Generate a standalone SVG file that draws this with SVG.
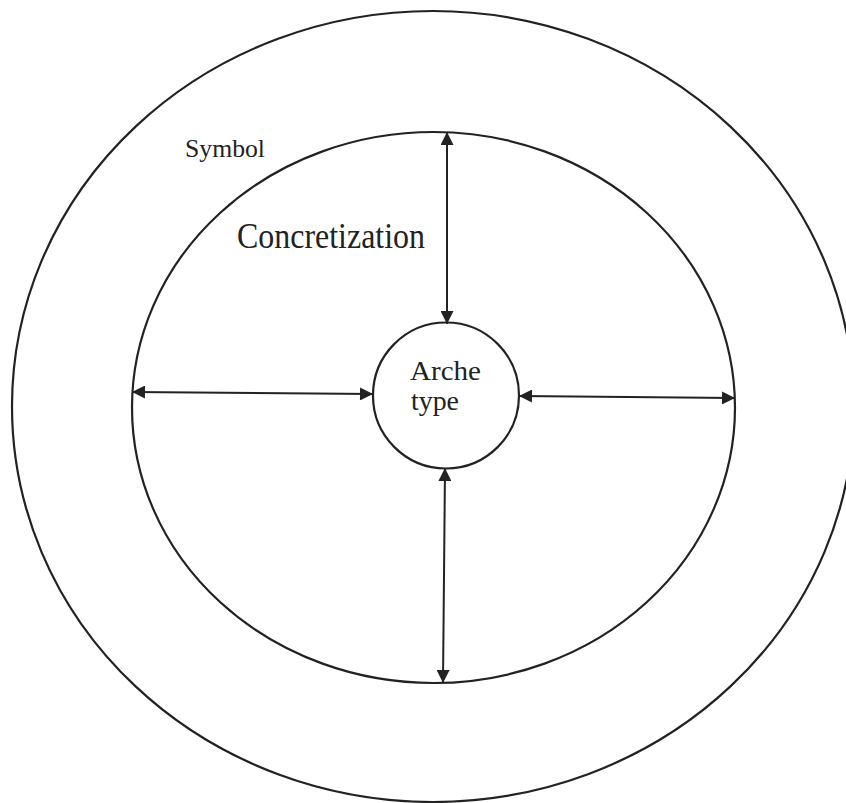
<svg xmlns="http://www.w3.org/2000/svg" width="846" height="803" viewBox="0 0 846 803">
<defs>
<style>
.ring{fill:none;stroke:#222;stroke-width:2.2}
.conn{stroke:#222;stroke-width:2;fill:none;marker-start:url(#ah);marker-end:url(#ah)}
text{font-family:"Liberation Serif","Times New Roman",serif;fill:#222}
</style>
<marker id="ah" viewBox="0 0 10 10" refX="10" refY="5" markerWidth="8.5" markerHeight="6.5" markerUnits="strokeWidth" orient="auto-start-reverse">
<path d="M0,0 L10,5 L0,10 z" fill="#222"/>
</marker>
</defs>
<rect width="846" height="803" fill="#fff"/>
<g id="symbol">
<ellipse class="ring" cx="433" cy="406.5" rx="421" ry="395.5"/>
<text x="185" y="157" font-size="25" textLength="80" lengthAdjust="spacingAndGlyphs">Symbol</text>
</g>
<g id="concretization">
<ellipse class="ring" cx="433.5" cy="407.5" rx="301.5" ry="275.5"/>
<text x="237" y="248" font-size="35" textLength="188" lengthAdjust="spacingAndGlyphs">Concretization</text>
</g>
<g id="archetype">
<circle class="ring" cx="446" cy="395.5" r="73"/>
<text x="410" y="380" font-size="28" textLength="71" lengthAdjust="spacingAndGlyphs">Arche</text>
<text x="411" y="410" font-size="28" textLength="48" lengthAdjust="spacingAndGlyphs">type</text>
</g>
<g id="connectors">
<line class="conn" x1="447" y1="324" x2="447" y2="132"/>
<line class="conn" x1="445" y1="468" x2="443" y2="683"/>
<line class="conn" x1="373" y1="394" x2="132" y2="392"/>
<line class="conn" x1="519" y1="396" x2="735" y2="398"/>
</g>
</svg>
